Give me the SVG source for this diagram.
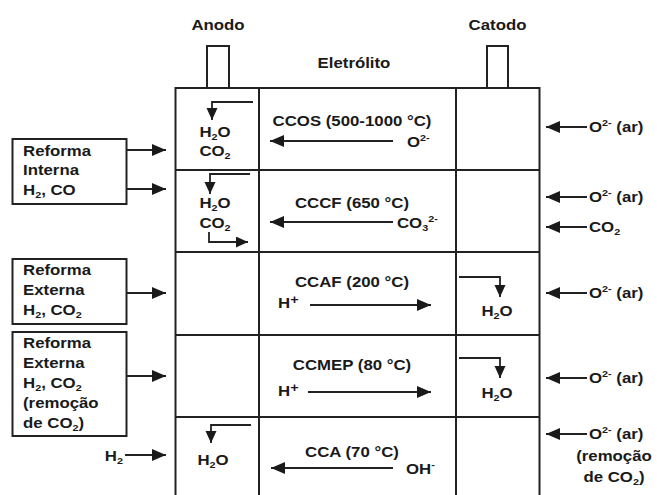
<svg xmlns="http://www.w3.org/2000/svg" width="657" height="495" viewBox="0 0 657 495">
<defs>
<style>
text{font-family:"Liberation Sans",Arial,sans-serif;font-weight:bold;font-size:14px;fill:#1a1a1a;transform:scale(1.2,1)}
.m{text-anchor:middle}
.e{text-anchor:end}
.s{font-size:9px}
.ln{stroke:#222;stroke-width:2;fill:none}
.a{stroke:#222;stroke-width:2;fill:none;marker-end:url(#ah)}
.b{stroke:#222;stroke-width:1.8;fill:none;marker-end:url(#sh)}
</style>
<marker id="ah" markerUnits="userSpaceOnUse" markerWidth="15" markerHeight="13" refX="14" refY="6" orient="auto"><path d="M0,0 L14,6 L0,12 z" fill="#1a1a1a"/></marker>
<marker id="sh" markerUnits="userSpaceOnUse" markerWidth="13" markerHeight="12" refX="12" refY="5.5" orient="auto"><path d="M0,0 L12,5.5 L0,11 z" fill="#1a1a1a"/></marker>
</defs>
<rect width="657" height="495" fill="#fff"/>

<g id="cell">
<path class="ln" d="M175.5,495 V88 H539.5 V495 M259,88 V495 M456,88 V495 M175.5,170 H539.5 M175.5,252 H539.5 M175.5,335 H539.5 M175.5,417 H539.5"/>
<rect class="ln" x="207" y="46" width="22" height="42"/>
<rect class="ln" x="487" y="46" width="21" height="42"/>
<text class="m" x="181.67" y="30">Anodo</text>
<text class="m" x="414.58" y="30">Catodo</text>
<text class="m" x="295" y="68">Eletrólito</text>
</g>

<g id="reforma-interna">
<rect class="ln" x="12.5" y="139" width="114" height="65"/>
<text x="19.17" y="156">Reforma</text>
<text x="19.17" y="175">Interna</text>
<text x="19.17" y="195">H<tspan class="s" dy="3">2</tspan><tspan dy="-3">, CO</tspan></text>
</g>
<g id="reforma-externa-1">
<rect class="ln" x="12.5" y="259" width="114" height="65"/>
<text x="19.17" y="275">Reforma</text>
<text x="19.17" y="295">Externa</text>
<text x="19.17" y="315">H<tspan class="s" dy="3">2</tspan><tspan dy="-3">, CO</tspan><tspan class="s" dy="3">2</tspan></text>
</g>
<g id="reforma-externa-2">
<rect class="ln" x="12.5" y="332" width="114" height="104"/>
<text x="19.17" y="348">Reforma</text>
<text x="19.17" y="368">Externa</text>
<text x="19.17" y="388">H<tspan class="s" dy="3">2</tspan><tspan dy="-3">, CO</tspan><tspan class="s" dy="3">2</tspan></text>
<text x="19.17" y="408">(remoção</text>
<text x="19.17" y="428">de CO<tspan class="s" dy="3">2</tspan><tspan dy="-3">)</tspan></text>
</g>
<g id="h2-in">
<text class="e" x="102.5" y="461">H<tspan class="s" dy="3">2</tspan></text>
</g>

<g id="ccos">
<text class="m" x="293.33" y="126">CCOS (500-1000 °C)</text>
<text x="339.17" y="147">O<tspan class="s" dy="-6">2-</tspan></text>
<text class="m" x="179.17" y="137">H<tspan class="s" dy="3">2</tspan><tspan dy="-3">O</tspan></text>
<text class="m" x="179.17" y="156">CO<tspan class="s" dy="3">2</tspan></text>
</g>
<g id="cccf">
<text class="m" x="293.33" y="208">CCCF (650 °C)</text>
<text x="330.83" y="228">CO<tspan class="s" dy="3">3</tspan><tspan class="s" dy="-9">2-</tspan></text>
<text class="m" x="179.17" y="208">H<tspan class="s" dy="3">2</tspan><tspan dy="-3">O</tspan></text>
<text class="m" x="179.17" y="228">CO<tspan class="s" dy="3">2</tspan></text>
</g>
<g id="ccaf">
<text class="m" x="293.33" y="287">CCAF (200 °C)</text>
<text x="231.67" y="308.5">H<tspan font-size="12" dy="-4">+</tspan></text>
<text class="m" x="414.17" y="316">H<tspan class="s" dy="3">2</tspan><tspan dy="-3">O</tspan></text>
</g>
<g id="ccmep">
<text class="m" x="293.33" y="370">CCMEP (80 °C)</text>
<text x="231.67" y="396">H<tspan font-size="12" dy="-4">+</tspan></text>
<text class="m" x="414.17" y="398">H<tspan class="s" dy="3">2</tspan><tspan dy="-3">O</tspan></text>
</g>
<g id="cca">
<text class="m" x="293.33" y="457">CCA (70 °C)</text>
<text x="338.33" y="474">OH<tspan class="s" dy="-6">-</tspan></text>
<text class="m" x="177.5" y="465">H<tspan class="s" dy="3">2</tspan><tspan dy="-3">O</tspan></text>
</g>

<g id="right-inputs">
<text x="490.83" y="132">O<tspan class="s" dy="-6">2-</tspan><tspan dy="6"> (ar)</tspan></text>
<text x="490.83" y="202">O<tspan class="s" dy="-6">2-</tspan><tspan dy="6"> (ar)</tspan></text>
<text x="490.83" y="232">CO<tspan class="s" dy="3">2</tspan></text>
<text x="490.83" y="298">O<tspan class="s" dy="-6">2-</tspan><tspan dy="6"> (ar)</tspan></text>
<text x="490.83" y="383">O<tspan class="s" dy="-6">2-</tspan><tspan dy="6"> (ar)</tspan></text>
<text x="490.83" y="439">O<tspan class="s" dy="-6">2-</tspan><tspan dy="6"> (ar)</tspan></text>
<text class="m" x="511.67" y="461">(remoção</text>
<text class="m" x="511.67" y="482">de CO<tspan class="s" dy="3">2</tspan><tspan dy="-3">)</tspan></text>
</g>

<g id="connectors">
<line class="a" x1="127" y1="150" x2="166" y2="150"/>
<line class="a" x1="127" y1="189" x2="166" y2="189"/>
<line class="a" x1="127" y1="293" x2="166" y2="293"/>
<line class="a" x1="127" y1="376" x2="166" y2="376"/>
<line class="a" x1="125" y1="455" x2="166" y2="455"/>
<line class="a" x1="587" y1="127" x2="546" y2="127"/>
<line class="a" x1="587" y1="197" x2="546" y2="197"/>
<line class="a" x1="587" y1="227" x2="546" y2="227"/>
<line class="a" x1="587" y1="293" x2="546" y2="293"/>
<line class="a" x1="587" y1="378" x2="546" y2="378"/>
<line class="a" x1="587" y1="434" x2="546" y2="434"/>
<line class="a" x1="393" y1="141" x2="270" y2="141"/>
<line class="a" x1="393" y1="222" x2="270" y2="222"/>
<line class="a" x1="310" y1="305" x2="431" y2="305"/>
<line class="a" x1="308" y1="392" x2="431" y2="392"/>
<line class="a" x1="393" y1="468" x2="271" y2="468"/>
<polyline class="b" points="253,102 212,102 212,120"/>
<polyline class="b" points="250,174 210,174 210,194"/>
<polyline class="b" points="209,232 209,242 248,242"/>
<polyline class="b" points="251,425 211,425 211,443"/>
<polyline class="b" points="459,277 500,277 500,297"/>
<polyline class="b" points="459,358 500,358 500,378"/>
</g>
</svg>
